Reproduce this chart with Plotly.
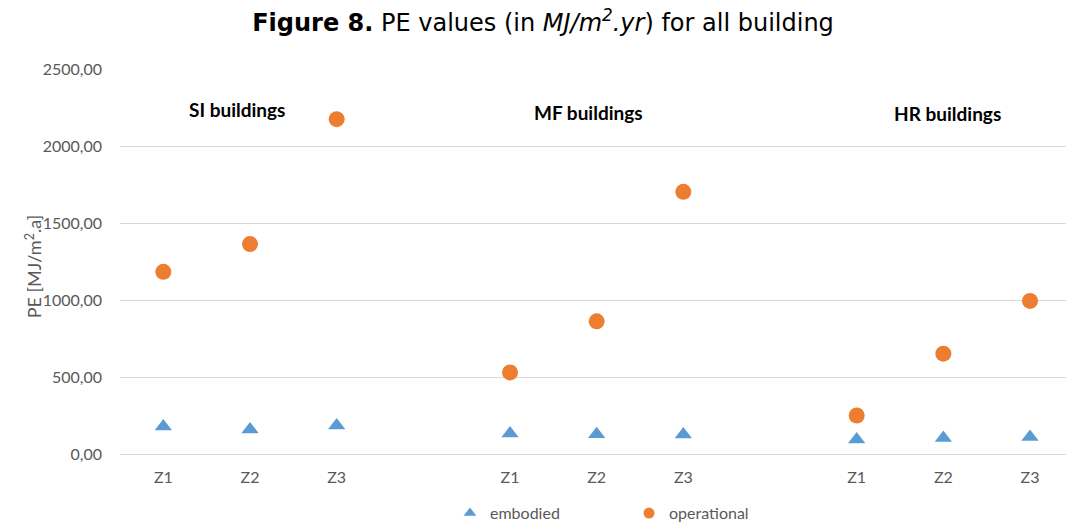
import plotly.graph_objects as go

# category slots (gaps between building groups)
slots = [0, 1, 2, 4, 5, 6, 8, 9, 10]
zone_labels = ["Z1", "Z2", "Z3", "Z1", "Z2", "Z3", "Z1", "Z2", "Z3"]
embodied = [179, 160, 185, 134, 129, 127, 94, 104, 110]
operational = [1184, 1364, 2176, 530, 862, 1704, 250, 652, 995]
group_labels = ["SI buildings", "MF buildings", "HR buildings"]
group_pos = [0.85, 4.9, 9.05]
group_y = [2240, 2220, 2215]
y_ticks = [0, 500, 1000, 1500, 2000, 2500]

BLUE = "#5B9BD5"
ORANGE = "#ED7D31"
GRAY = "#595959"

fig = go.Figure()
fig.add_trace(go.Scatter(
    x=slots, y=embodied, mode="markers", name="embodied", showlegend=False,
    marker=dict(symbol="triangle-up", size=15, color=BLUE),
))
fig.add_trace(go.Scatter(
    x=slots, y=operational, mode="markers", name="operational", showlegend=False,
    marker=dict(symbol="circle", size=16, color=ORANGE),
))
# legend entries with smaller symbols
fig.add_trace(go.Scatter(
    x=[None], y=[None], mode="markers", name="embodied",
    marker=dict(symbol="triangle-up", size=11, color=BLUE),
))
fig.add_trace(go.Scatter(
    x=[None], y=[None], mode="markers", name="operational",
    marker=dict(symbol="circle", size=11, color=ORANGE),
))

for lab, xp, yp in zip(group_labels, group_pos, group_y):
    fig.add_annotation(x=xp, y=yp, xref="x", yref="y", text="<b>%s</b>" % lab,
                       showarrow=False, font=dict(family="Lato", size=19, color="black"))

fig.add_annotation(x=(20 - 120) / 946, y=0.485, xref="paper", yref="paper",
                   text="PE [MJ/m<sup>2</sup>.a]", textangle=-90, showarrow=False,
                   font=dict(family="Lato", size=18, color=GRAY))

fig.update_layout(
    width=1066, height=522,
    margin=dict(l=120, r=0, t=69, b=68, autoexpand=False),
    paper_bgcolor="white", plot_bgcolor="white",
    separators=",.",
    title=dict(
        text="<b>Figure 8.</b> PE values (in <i>MJ/m<sup>2</sup>.yr</i>) for all building",
        x=543 / 1066, xanchor="center", y=1 - 23 / 522, yanchor="middle",
        font=dict(family="DejaVu Sans", size=24, color="black"),
    ),
    xaxis=dict(
        range=[-0.5, (1066 - 163) / 86.7], tickvals=slots, ticktext=zone_labels,
        showgrid=False, zeroline=False, showline=False, ticks="",
        ticklabelstandoff=12,
        tickfont=dict(family="Lato", size=16, color=GRAY),
    ),
    yaxis=dict(
        range=[0, 2502], tickvals=y_ticks, tickformat=".2f",
        showgrid=True, gridcolor="#D9D9D9", gridwidth=1,
        zeroline=True, zerolinecolor="#D9D9D9", zerolinewidth=1,
        ticks="", ticklabelstandoff=17,
        tickfont=dict(family="Lato", size=16, color=GRAY),
    ),
    legend=dict(
        orientation="h", x=(450 - 120) / 946, xanchor="left",
        y=(454 - 513) / 384, yanchor="middle",
        font=dict(family="Lato", size=16, color=GRAY),
        entrywidth=134, entrywidthmode="pixels",
    ),
)

fig.write_html(
    "out.html",
    config={"displayModeBar": False},
    post_script="document.body.style.margin='0';document.body.style.overflow='hidden';",
)
